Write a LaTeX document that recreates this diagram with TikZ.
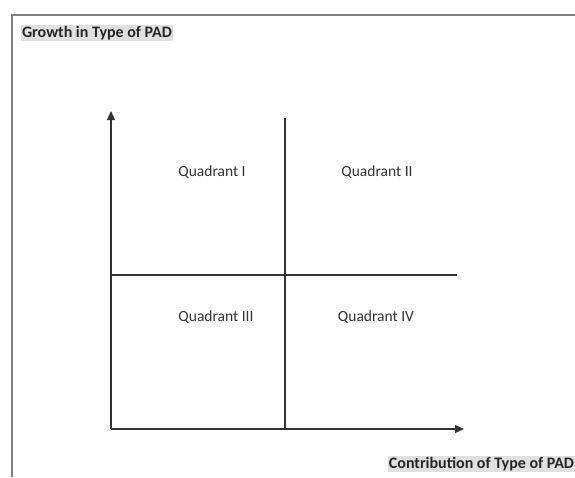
\documentclass[tikz,border=0pt]{standalone}
\usepackage{fontspec}
\setmainfont{Carlito}
\usetikzlibrary{arrows.meta}
\tikzset{
    axis/.style={draw=black!80, line width=1.1pt},
    quad/.style={font=\fontsize{15.5}{18}\selectfont, text=black!80},
    tag/.style={font=\bfseries\fontsize{16}{18}\selectfont, text=black!85, fill=black!12, inner sep=0.8pt}
}
\begin{document}
\begin{tikzpicture}[x=1pt,y=-1pt]
    \useasboundingbox (0,0) rectangle (575,477);
    \draw[black!50, line width=2pt] (12,477) -- (12,15) -- (575,15);

    \coordinate (o) at (111,429);
    \coordinate (ytop) at (111,111);
    \coordinate (xend) at (464,429);
    \coordinate (vtop) at (285,118);
    \coordinate (vbot) at (285,429);
    \coordinate (hleft) at (111,275);
    \coordinate (hright) at (457,275);

    \draw[axis,-{Triangle[length=9pt,width=8pt]}] (o) -- (ytop);
    \draw[axis,-{Triangle[length=9pt,width=8pt]}] (o) -- (xend);
    \draw[axis] (vtop) -- (vbot);
    \draw[axis] (hleft) -- (hright);

    \node[quad] (q1) at (212,172) {Quadrant I};
    \node[quad] (q2) at (377,172) {Quadrant II};
    \node[quad] (q3) at (216,317) {Quadrant III};
    \node[quad] (q4) at (376,317) {Quadrant IV};

    \node[tag, anchor=west] (growth) at (21,33) {Growth in Type of PAD};
    \node[tag, anchor=east] (contrib) at (575,464) {Contribution of Type of PAD};
\end{tikzpicture}
\end{document}
